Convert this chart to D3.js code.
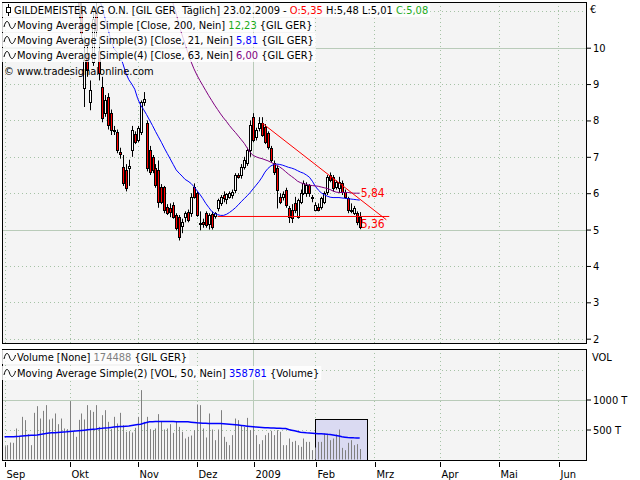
<!DOCTYPE html>
<html><head><meta charset="utf-8">
<script src="https://cdn.jsdelivr.net/npm/d3@7"></script>
<style>
body{margin:0;background:#fff;}
svg text{font-family:"DejaVu Sans Condensed","DejaVu Sans",sans-serif;font-stretch:condensed;font-size:11px;white-space:pre;}
</style></head><body>
<svg id="c" width="640" height="480"></svg>
<script>
// ---------- DATA ----------
const startDate = "2008-09-01";
const holidays = ["2008-12-24","2008-12-25","2008-12-26","2008-12-31","2009-01-01","2009-04-10","2009-04-13","2009-05-01"];
const calendarLength = 197;
// label per calendar month (index 0 = January, shown as the year)
const monthNames = ["2009","Feb","Mrz","Apr","Mai","Jun","Jul","Aug","Sep","Okt","Nov","Dez"];

const openP = [15.2,15.6,15.7,15.1,14.9,14.6,15.0,15.3,15.0,14.5,14.1,13.8,13.6,14.2,14.6,14.8,14.2,13.9,13.5,13.2,12.8,12.5,12.9,12.5,12.2,11.9,11.1,8.89,9.8,8.5,9.6,11.0,9.9,
 8.92,8.2,8.64,8.2,7.75,7.68,7.12,6.72,6.64,6.7,7.19,7.62,7.46,7.68,8.5,7.92,7.19,7.0,6.69,6.64,6.16,6.16,5.61,5.6,5.67,5.4,5.34,5.09,5.34,5.48,5.45,6.16,6.0,5.18,5.22,5.45,5.15,5.42,5.36,5.59,5.73,5.95,5.85,5.9,5.95,6.08,6.49,6.49,6.72,6.83,7.19,8.09,7.54,7.79,7.92,7.81,7.65,7.24,6.83,6.69,5.89,5.9,6.08,5.59,5.53,5.72,5.35,5.75,6.0,6.0,6.22,5.86,5.53,5.62,5.61,5.75,6.02,6.49,6.44,6.16,6.14,6.27,6.02,5.86,5.55,5.45,5.45,5.35];
const highP = [15.9,16.0,15.8,15.3,15.0,15.2,15.5,15.4,15.1,14.6,14.3,13.9,14.3,14.8,15.0,14.9,14.3,14.1,13.6,13.4,13.0,13.1,13.0,12.6,12.4,12.1,11.5,10.3,10.1,9.1,11.0,11.6,10.3,
 9.2,8.7,8.75,8.3,7.85,7.75,7.25,7.05,6.8,6.92,7.85,7.7,7.85,8.55,8.78,8.0,7.3,7.05,6.8,6.9,6.25,6.2,5.7,5.72,5.75,5.45,5.4,5.3,5.5,5.55,6.0,6.27,6.05,5.5,5.3,5.5,5.45,5.5,5.48,5.85,5.95,6.05,6.0,6.05,6.1,6.55,6.55,6.8,7.0,7.25,8.0,8.2,7.8,8.09,8.09,7.9,7.7,7.3,6.9,6.75,6.0,6.05,6.15,5.65,5.7,5.9,5.85,6.1,6.35,6.3,6.25,5.95,5.75,5.72,5.9,6.05,6.5,6.57,6.5,6.35,6.45,6.35,6.1,5.9,5.72,5.65,5.5,5.48];
const lowP = [15.0,15.4,15.0,14.7,14.3,14.5,14.9,14.9,14.4,14.0,13.6,13.2,13.5,14.1,14.5,14.1,13.7,13.4,13.0,12.6,12.3,12.4,12.4,12.0,11.7,10.8,10.2,8.37,9.2,8.28,9.5,10.3,9.1,
 7.95,8.1,7.75,7.6,7.6,7.1,6.95,6.2,6.05,6.2,7.0,7.35,7.4,7.6,8.4,6.6,6.5,6.55,6.15,5.6,5.7,5.45,5.4,5.34,5.3,4.98,4.70,4.9,5.2,5.2,5.35,5.85,5.35,4.98,5.05,5.05,5.0,5.0,5.3,5.5,5.65,5.75,5.7,5.85,5.85,6.0,6.4,6.4,6.65,6.75,7.0,7.4,7.45,7.7,7.55,7.35,7.2,6.85,6.5,5.58,5.7,5.8,5.6,5.18,5.18,5.45,5.3,5.7,5.95,5.9,5.9,5.75,5.5,5.5,5.55,5.7,5.95,6.3,6.05,6.1,6.0,5.95,5.85,5.45,5.45,5.4,5.12,5.01];
const closeP = [15.6,15.8,15.2,14.9,14.5,15.0,15.3,15.1,14.6,14.2,13.8,13.5,14.1,14.6,14.8,14.3,13.9,13.6,13.2,12.8,12.5,12.9,12.6,12.2,11.9,11.0,10.4,9.66,9.4,8.85,10.8,10.5,9.3,
 8.06,8.55,7.87,7.73,7.7,7.19,7.08,6.27,6.14,6.76,7.73,7.42,7.79,8.5,8.58,6.68,6.58,6.64,6.22,5.75,5.75,5.53,5.45,5.47,5.34,5.03,4.79,5.2,5.45,5.26,5.89,5.89,5.40,5.14,5.15,5.12,5.40,5.08,5.45,5.81,5.89,5.86,5.98,6.0,6.02,6.49,6.45,6.72,6.91,7.19,7.87,7.46,7.73,7.92,7.59,7.40,7.27,6.91,6.58,6.08,5.75,5.98,5.67,5.34,5.31,5.53,5.8,6.0,6.27,6.22,6.0,5.89,5.67,5.55,5.86,6.0,6.44,6.36,6.14,6.30,6.30,6.02,5.89,5.53,5.52,5.59,5.20,5.08];

// volume in thousands
const volume = [222,239,283,278,517,378,711,656,422,239,
 778,889,683,811,906,667,683,767,589,683,
 517,506,972,461,378,661,767,667,906,822,
 794,906,544,739,822,628,506,711,600,778,
 572,461,472,450,528,711,1156,628,711,506,
 489,517,756,628,500,517,589,444,628,544,
 461,350,378,400,489,917,906,517,367,767,
 500,322,500,822,378,294,239,406,683,656,
 572,544,694,489,556,406,256,322,406,444,
 478,406,489,461,239,239,350,294,311,239,
 211,350,294,294,156,200,294,294,433,433,
 322,350,417,500,194,156,278,322,239,256,174.488];

const ma21 = Array(30).fill(null).concat([
 11.9,11.6,11.35,11.1,10.8,10.5,10.2,9.97,9.88,9.78,
 9.56,9.3,9.12,9.0,8.86,8.6,8.42,8.3,8.16,8.01,
 7.86,7.7,7.55,7.4,7.24,7.09,6.94,6.79,6.64,6.55,
 6.47,6.38,6.33,6.27,6.18,6.07,5.97,5.85,5.72,5.61,
 5.5,5.44,5.41,5.39,5.39,5.42,5.47,5.53,5.6,5.68,
 5.77,5.85,5.93,6.02,6.12,6.22,6.32,6.44,6.58,6.68,
 6.75,6.79,6.8,6.79,6.77,6.74,6.71,6.69,6.66,6.62,
 6.58,6.55,6.5,6.44,6.33,6.19,6.09,6.01,5.96,5.92,
 5.89,5.88,5.88,5.88,5.87,5.86,5.85,5.84,5.83,5.82,5.81]);

const ma63 = Array(55).fill(null).concat([
 11.75,11.45,11.2,10.95,10.6,10.35,10.1,9.85,9.62,9.42,
 9.25,9.1,8.96,8.82,8.68,8.55,8.42,8.3,8.18,8.07,
 7.97,7.86,7.76,7.67,7.57,7.47,7.37,7.24,7.12,7.04,
 7.0,6.97,6.95,6.92,6.89,6.85,6.81,6.77,6.72,6.66,
 6.59,6.52,6.46,6.4,6.33,6.29,6.26,6.24,6.22,6.21,
 6.2,6.19,6.17,6.15,6.13,6.1,6.06,6.03,6.02,6.02,
 6.02,6.02,6.01,6.0,6.0,6.0]);

const volMA50 = [378,378,378,380,383,386,392,396,400,404,
 406,410,418,425,432,440,444,447,452,455,
 458,461,466,472,476,480,484,489,495,500,
 505,510,517,521,527,530,535,540,544,548,
 552,556,560,567,575,582,589,605,618,628,
 631,633,634,634,634,634,633,632,631,630,
 629,628,628,622,616,611,609,606,604,602,
 601,600,600,598,595,592,588,583,578,573,
 567,561,555,549,544,540,537,533,530,528,
 526,524,522,520,518,517,500,489,478,467,
 456,450,444,440,436,433,431,428,425,420,
 417,410,400,390,378,372,367,364,361,360,358.781];

const ma200Last = 12.23;
const priceTicks = [2,3,4,5,6,7,8,9,10];
const priceGrid = [2,3,4,5,6,7,8,9,10,11];
const priceSolid = [5,10];
const volTicks = [500,1000];
const volGrid = [500,1000,1500];
const volSolid = [1000];
const trendLines = [
  {from:72, to:130, v0:5.36, v1:5.36},
  {from:87, to:129, v0:7.93, v1:5.27}
];
const volBox = {from:104.9, to:122.4, level:667};

// ---------- HELPERS ----------
const svg = d3.select("#c");
const fmt = v => d3.format(".2f")(v).replace(".", ",");
const RED = "#ff0000", GREEN = "#1aaa1a", BLUE = "#0000ff", PURPLE = "#800080";

// trading calendar
const hol = new Set(holidays);
const cal = [];
{
  let d = new Date(startDate + "T12:00:00Z");
  while (cal.length < calendarLength) {
    const wd = d.getUTCDay();
    const key = d.toISOString().slice(0,10);
    if (wd !== 0 && wd !== 6 && !hol.has(key)) cal.push(new Date(d));
    d.setUTCDate(d.getUTCDate() + 1);
  }
}
const monthTicks = [];
cal.forEach((d,i) => {
  if (i === 0 || d.getUTCMonth() !== cal[i-1].getUTCMonth()) monthTicks.push({i, m:d.getUTCMonth()});
});

// scales
const P = {l:2, r:586, t:2, b:343};
const V = {l:2, r:586, t:349, b:460};
const x = d3.scaleLinear().domain([0, 196]).range([4.5, 4.5 + 196*2.96]);
const y = d3.scaleLinear().domain([2, 10]).range([338.7, 47.7]);
const yv = d3.scaleLinear().domain([0, 1000]).range([459.5, 399.5]);
const px = v => Math.round(v) + 0.5;

const defs = svg.append("defs");
defs.append("clipPath").attr("id","clipP").append("rect").attr("x",P.l).attr("y",P.t).attr("width",P.r-P.l).attr("height",P.b-P.t);
defs.append("clipPath").attr("id","clipV").append("rect").attr("x",V.l).attr("y",V.t).attr("width",V.r-V.l).attr("height",V.b-V.t);

// panel backgrounds
[P, V].forEach(p => svg.append("rect").attr("x",p.l+0.5).attr("y",p.t+0.5).attr("width",p.r-p.l).attr("height",p.b-p.t).attr("fill","#f4f4f4"));

const SOLID = "#b9cbb9", DOT = "#a5c2a5";
function vgrid(p) {
  svg.append("g").selectAll("line").data(monthTicks).join("line")
    .attr("x1", d => px(x(d.i))).attr("x2", d => px(x(d.i)))
    .attr("y1", p.t).attr("y2", p.b)
    .attr("stroke", d => d.m === 0 ? SOLID : DOT)
    .attr("stroke-dasharray", d => d.m === 0 ? null : "1,3");
}
vgrid(P); vgrid(V);
svg.append("g").selectAll("line").data(priceGrid).join("line")
  .attr("x1", P.l).attr("x2", P.r).attr("y1", d => px(y(d))).attr("y2", d => px(y(d)))
  .attr("stroke", d => priceSolid.includes(d) ? SOLID : DOT)
  .attr("stroke-dasharray", d => priceSolid.includes(d) ? null : "1,3");
svg.append("g").selectAll("line").data(volGrid).join("line")
  .attr("x1", V.l).attr("x2", V.r).attr("y1", d => px(yv(d))).attr("y2", d => px(yv(d)))
  .attr("stroke", d => volSolid.includes(d) ? SOLID : DOT)
  .attr("stroke-dasharray", d => volSolid.includes(d) ? null : "1,3");

// ---------- PRICE PANEL ----------
const idx = d3.range(closeP.length);
const gp = svg.append("g").attr("clip-path","url(#clipP)");
gp.append("g").selectAll("line").data(idx).join("line")
  .attr("x1", i => px(x(i))).attr("x2", i => px(x(i)))
  .attr("y1", i => y(highP[i])).attr("y2", i => y(lowP[i]))
  .attr("stroke", "#000").attr("stroke-width", 1);
gp.append("g").selectAll("rect").data(idx).join("rect")
  .attr("x", i => Math.round(x(i)) - 0.5)
  .attr("y", i => Math.round(y(Math.max(openP[i], closeP[i]))) + 0.5)
  .attr("width", 2)
  .attr("height", i => Math.max(1, Math.round(y(Math.min(openP[i], closeP[i]))) - Math.round(y(Math.max(openP[i], closeP[i])))))
  .attr("fill", i => closeP[i] >= openP[i] ? "#ffffff" : RED)
  .attr("stroke", "#000").attr("stroke-width", 1);

const lineGen = arr => d3.line().defined(i => arr[i] != null).x(i => x(i)).y(i => y(arr[i]))(idx);
gp.append("path").attr("d", lineGen(ma21)).attr("fill","none").attr("stroke",BLUE).attr("stroke-width",1);
gp.append("path").attr("d", lineGen(ma63)).attr("fill","none").attr("stroke",PURPLE).attr("stroke-width",1);

gp.append("g").selectAll("line").data(trendLines).join("line")
  .attr("x1", d => x(d.from)).attr("x2", d => x(d.to))
  .attr("y1", d => y(d.v0)).attr("y2", d => y(d.v1))
  .attr("stroke", RED).attr("stroke-width", 1);
const lastI = closeP.length - 1;
const tlVal = d => d.v0 + (d.v1 - d.v0) * (lastI - d.from) / (d.to - d.from);
gp.append("g").selectAll("text").data(trendLines).join("text")
  .attr("x", x(lastI) + 1)
  .attr("y", d => d.v0 === d.v1 ? y(tlVal(d)) + 12 : y(tlVal(d)) - 2)
  .attr("fill", RED).style("font-size","12px")
  .text(d => fmt(tlVal(d)));

// ---------- VOLUME PANEL ----------
const gv = svg.append("g").attr("clip-path","url(#clipV)");
gv.append("rect")
  .attr("x", Math.round(x(volBox.from)) + 0.5).attr("y", Math.round(yv(volBox.level)) + 0.5)
  .attr("width", Math.round(x(volBox.to)) - Math.round(x(volBox.from)))
  .attr("height", Math.round(yv(0)) - Math.round(yv(volBox.level)))
  .attr("fill", "#dadaf2").attr("stroke", "#000");
gv.append("g").selectAll("line").data(idx).join("line")
  .attr("x1", i => px(x(i))).attr("x2", i => px(x(i)))
  .attr("y1", yv(0)).attr("y2", i => yv(volume[i]))
  .attr("stroke", "#808080").attr("stroke-width", 1);
gv.append("path").attr("d", d3.line().x(i => x(i)).y(i => yv(volMA50[i]))(idx))
  .attr("fill","none").attr("stroke",BLUE).attr("stroke-width",1.5);

// panel borders
[P, V].forEach(p => svg.append("rect").attr("x",p.l+0.5).attr("y",p.t+0.5).attr("width",p.r-p.l).attr("height",p.b-p.t).attr("fill","none").attr("stroke","#000"));

// ---------- AXES ----------
const yAxis = d3.axisRight(y).tickValues(priceTicks).tickSize(4).tickPadding(2).tickFormat(d3.format("d"));
svg.append("g").attr("transform", `translate(${P.r + 1},0)`).call(yAxis)
  .call(g => { g.select(".domain").remove(); g.selectAll("text").attr("fill","#000").style("font-size","11px").style("font-family",null); g.selectAll("line").attr("stroke","#000"); });
const vAxis = d3.axisRight(yv).tickValues(volTicks).tickSize(4).tickPadding(2).tickFormat(d => d + " T");
svg.append("g").attr("transform", `translate(${V.r + 1},0)`).call(vAxis)
  .call(g => { g.select(".domain").remove(); g.selectAll("text").attr("fill","#000").style("font-size","11px").style("font-family",null); g.selectAll("line").attr("stroke","#000"); });
svg.append("text").attr("x", 590).attr("y", 13).text("€");
svg.append("text").attr("x", 592).attr("y", 361).text("VOL");

const xAxis = d3.axisBottom(x).tickValues(monthTicks.map(d => d.i)).tickSize(5).tickPadding(3)
  .tickFormat((d,k) => monthNames[monthTicks[k].m]);
svg.append("g").attr("transform", `translate(0.5,${V.b + 2})`).call(xAxis)
  .call(g => { g.select(".domain").remove();
    g.selectAll(".tick").attr("transform", function(){ const t = d3.select(this).attr("transform"); const m = /translate\(([-\d.]+)/.exec(t); return `translate(${Math.round(+m[1])},0)`; });
    g.selectAll("line").attr("stroke","#000");
    g.selectAll("text").attr("fill","#000").attr("text-anchor","start").attr("x", 1).attr("dy", "0.71em").style("font-size","11px").style("font-family",null); });

// ---------- LEGENDS ----------
const lg = svg.append("g");
function legend(yc, x0, segs, bg, icon) {
  const t = lg.append("text").attr("x", x0).attr("y", yc + 4);
  segs.forEach(s => t.append("tspan").attr("fill", s[1]).text(s[0]));
  if (bg) {
    const bb = t.node().getBBox();
    lg.insert("rect", () => t.node()).attr("x", 2).attr("y", yc - 7).attr("width", bb.x + bb.width + 2 - 2).attr("height", 14)
      .attr("fill", "#fff").attr("fill-opacity", 0.8);
  }
  if (icon === "wave") {
    lg.append("path").attr("d", `M4,${yc+2} C5.5,${yc-5} 8,${yc-5} 9.5,${yc} S13.5,${yc+5} 15.5,${yc-2}`).attr("fill","none").attr("stroke","#000");
  } else if (icon === "candle") {
    lg.append("line").attr("x1", 8.5).attr("x2", 8.5).attr("y1", yc - 6).attr("y2", yc + 6).attr("stroke","#000");
    lg.append("rect").attr("x", 6.5).attr("y", yc - 2.5).attr("width", 4).attr("height", 5).attr("fill","#fff").attr("stroke","#000");
  }
}
legend(10, 14, [["GILDEMEISTER AG O.N. [GIL GER  Täglich] 23.02.2009 - ", "#000"], ["O:" + fmt(openP[lastI]), RED],
  [" H:" + fmt(highP[lastI]) + " L:" + fmt(lowP[lastI]) + " ", "#000"], ["C:" + fmt(closeP[lastI]), GREEN]], true, "candle");
legend(25, 17, [["Moving Average Simple [Close, 200, Nein] ", "#000"], [fmt(ma200Last), GREEN], [" {GIL GER}", "#000"]], true, "wave");
legend(40, 17, [["Moving Average Simple(3) [Close, 21, Nein] ", "#000"], [fmt(ma21[lastI]), BLUE], [" {GIL GER}", "#000"]], true, "wave");
legend(55, 17, [["Moving Average Simple(4) [Close, 63, Nein] ", "#000"], [fmt(ma63[lastI]), PURPLE], [" {GIL GER}", "#000"]], true, "wave");
legend(71, 4, [["© www.tradesignalonline.com", "#000"]], false, null);
legend(357, 17, [["Volume [None] ", "#000"], [String(Math.round(volume[lastI]*1000)), "#808080"], [" {GIL GER}", "#000"]], true, "wave");
legend(373, 17, [["Moving Average Simple(2) [VOL, 50, Nein] ", "#000"], [String(Math.round(volMA50[lastI]*1000)), BLUE], [" {Volume}", "#000"]], true, "wave");
</script>
</body></html>
